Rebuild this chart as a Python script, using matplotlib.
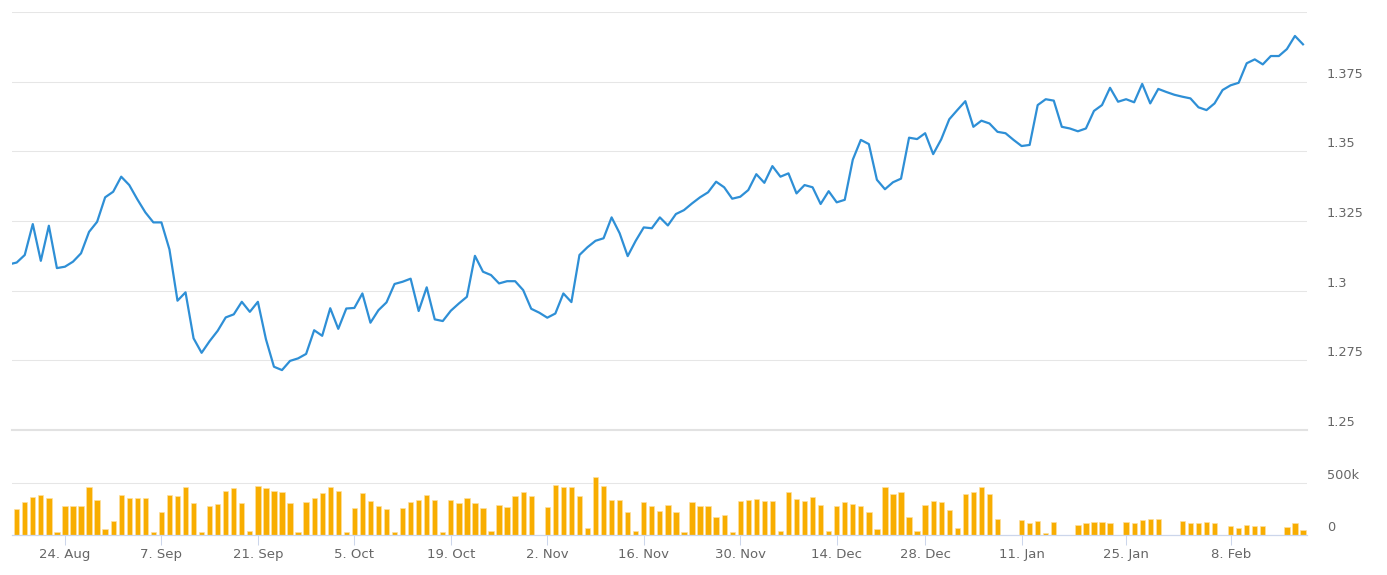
import numpy as np
import matplotlib
matplotlib.use("Agg")
import matplotlib.pyplot as plt

# price line, one value per trading point (first point sits just left of the plot edge)
price_idx = np.arange(-1, 161)
price = [
    1.3094, 1.3101, 1.3128, 1.3239, 1.3107, 1.3233, 1.3081, 1.3086, 1.3104, 1.3134,
    1.3211, 1.3247, 1.3335, 1.3355, 1.3409, 1.3379, 1.3328, 1.3281, 1.3245, 1.3245,
    1.3148, 1.2964, 1.2994, 1.2829, 1.2777, 1.2819, 1.2856, 1.2904, 1.2915, 1.2960,
    1.2924, 1.2960, 1.2826, 1.2727, 1.2715, 1.2748, 1.2757, 1.2773, 1.2858, 1.2838,
    1.2937, 1.2863, 1.2936, 1.2938, 1.2990, 1.2885, 1.2930, 1.2958, 1.3024, 1.3032,
    1.3043, 1.2927, 1.3012, 1.2897, 1.2891, 1.2928, 1.2954, 1.2978, 1.3125, 1.3068,
    1.3056, 1.3026, 1.3034, 1.3034, 1.3002, 1.2935, 1.2921, 1.2903, 1.2918, 1.2990,
    1.2959, 1.3128, 1.3156, 1.3179, 1.3188, 1.3263, 1.3206, 1.3124, 1.3179, 1.3227,
    1.3224, 1.3263, 1.3234, 1.3275, 1.3289, 1.3313, 1.3335, 1.3353, 1.3391, 1.3371,
    1.3330, 1.3337, 1.3361, 1.3418, 1.3387, 1.3447, 1.3409, 1.3421, 1.3349, 1.3379,
    1.3371, 1.3311, 1.3357, 1.3317, 1.3326, 1.3470, 1.3541, 1.3526, 1.3398, 1.3364,
    1.3389, 1.3402, 1.3549, 1.3544, 1.3565, 1.3490, 1.3543, 1.3615, 1.3648, 1.3680,
    1.3588, 1.3610, 1.3600, 1.3570, 1.3565, 1.3541, 1.3519, 1.3523, 1.3666, 1.3687,
    1.3682, 1.3588, 1.3582, 1.3572, 1.3582, 1.3645, 1.3666, 1.3728, 1.3678, 1.3687,
    1.3676, 1.3742, 1.3672, 1.3724, 1.3713, 1.3703, 1.3696, 1.3690, 1.3658, 1.3648,
    1.3672, 1.3720, 1.3737, 1.3746, 1.3816, 1.3830, 1.3812, 1.3842, 1.3842, 1.3867,
    1.3914, 1.3884,
]

# volume in thousands, nan = no bar
nan = np.nan
vol_idx = np.arange(0, 161)
volume = [
    247, 317, 365, 388, 353, 32, 282, 282, 282, 462, 340, 55,
    135, 388, 353, 353, 353, 32, 221, 388, 378, 462, 305, 32,
    282, 295, 426, 449, 305, 41, 474, 449, 426, 413, 305, 32,
    317, 353, 401, 462, 426, 32, 257, 401, 330, 282, 247, 32,
    257, 317, 340, 388, 340, 32, 338, 305, 353, 305, 257, 35,
    292, 269, 375, 410, 375, 4, 266, 481, 458, 458, 375, 64,
    555, 471, 338, 338, 218, 35, 314, 279, 231, 292, 218, 29,
    314, 279, 279, 170, 195, 29, 327, 337, 349, 327, 327, 35,
    410, 349, 327, 362, 292, 35, 279, 314, 301, 279, 218, 61,
    458, 397, 410, 170, 35, 292, 327, 314, 240, 64, 397, 410,
    458, 397, 157, nan, nan, 144, 112, 131, 15, 122, nan, nan,
    96, 112, 122, 122, 112, nan, 122, 112, 144, 157, 157, nan,
    nan, 135, 112, 112, 122, 112, nan, 87, 64, 99, 87, 87,
    nan, nan, 77, 112, 51,
]

date_ticks = [6, 18, 30, 42, 54, 66, 78, 90, 102, 113, 125, 138, 151]
date_labels = ["24. Aug", "7. Sep", "21. Sep", "5. Oct", "19. Oct", "2. Nov", "16. Nov",
               "30. Nov", "14. Dec", "28. Dec", "11. Jan", "25. Jan", "8. Feb"]
price_ticks = [1.25, 1.275, 1.3, 1.325, 1.35, 1.375]
price_labels = ["1.25", "1.275", "1.3", "1.325", "1.35", "1.375"]
vol_ticks = [0, 500]
vol_labels = ["0", "500k"]

W, H = 1387, 575
fig = plt.figure(figsize=(W / 100, H / 100), dpi=100)
left, width = 12 / W, 1295 / W
ax1 = fig.add_axes([left, (H - 430) / H, width, 418 / H])
ax2 = fig.add_axes([left, (H - 535) / H, width, 70 / H])

grid_c = "#e6e6e6"
txt_c = "#666666"
axis_c = "#ccd6eb"
xlim = (-0.585, 160.5)

# price panel
ax1.plot(price_idx, price, color="#2e8fd6", lw=1.6, solid_joinstyle="round")
ax1.set_xlim(*xlim)
ax1.set_ylim(1.25, 1.4)
ax1.set_yticks(price_ticks + [1.4])
ax1.set_yticklabels([])
ax1.tick_params(left=False, right=False, bottom=False, labelbottom=False)
ax1.grid(axis="y", color=grid_c, lw=0.75)
ax1.set_axisbelow(True)
for s in ax1.spines.values():
    s.set_visible(False)
# panel bottom line is a bit heavier
ax1.axhline(1.25, color="#e2e2e2", lw=1.5, zorder=0.5, clip_on=False)
for v, lab in zip(price_ticks, price_labels):
    ax1.annotate(lab, xy=(1, v), xycoords=("axes fraction", "data"),
                 xytext=(14.4, 5.4), textcoords="offset points",
                 ha="left", va="center", color=txt_c, fontsize=9.3)

# volume panel
ax2.bar(vol_idx, volume, width=0.66, color="#f8ad00", edgecolor="#fde0a0", linewidth=0.5)
ax2.set_xlim(*xlim)
ax2.set_ylim(0, 673)
ax2.set_yticks([500])
ax2.set_yticklabels([])
ax2.tick_params(axis="y", left=False, right=False)
ax2.grid(axis="y", color=grid_c, lw=0.75)
ax2.set_axisbelow(True)
for k, s in ax2.spines.items():
    s.set_visible(k == "bottom")
ax2.spines["bottom"].set_color(axis_c)
ax2.spines["bottom"].set_linewidth(0.9)
ax2.set_xticks(date_ticks)
ax2.set_xticklabels(date_labels)
ax2.tick_params(axis="x", direction="out", length=7.5, width=0.75, color=axis_c,
                labelcolor=txt_c, labelsize=9.5, pad=2)
for v, lab in zip(vol_ticks, vol_labels):
    ax2.annotate(lab, xy=(1, v), xycoords=("axes fraction", "data"),
                 xytext=(14.4, 5.6), textcoords="offset points",
                 ha="left", va="center", color=txt_c, fontsize=9.3)

fig.savefig("out.png", dpi=100)
